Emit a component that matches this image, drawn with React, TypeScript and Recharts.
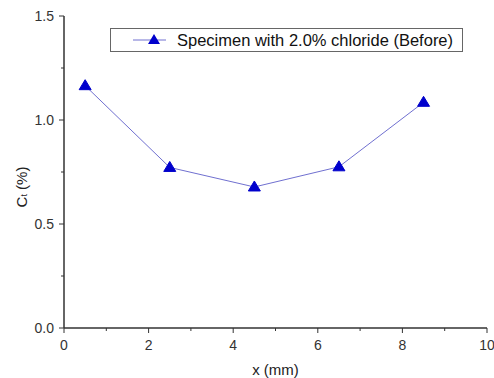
import React from 'react';
import { LineChart, Line, XAxis, YAxis, Legend, Label } from 'recharts';

const xValues = [0.5, 2.5, 4.5, 6.5, 8.5];
const chlorideBefore = [1.165, 0.772, 0.678, 0.775, 1.085];
const xTicks = [0, 1, 2, 3, 4, 5, 6, 7, 8, 9, 10];
const yTicks = [0, 0.25, 0.5, 0.75, 1, 1.25, 1.5];
const seriesName = 'Specimen with 2.0% chloride (Before)';

const data = xValues.map((x, i) => ({ x, ct: chlorideBefore[i] }));

const FONT = 'Arial, "Liberation Sans", sans-serif';
const AXIS = '#333';
const TICK_SIZE = 5;
const TICK_MARGIN = 7;
const Y_TICK_MARGIN = 5;

const XTick = (props: any) => {
  const { x, y, payload } = props;
  const v = payload.value;
  const major = v % 2 === 0;
  const axisY = y - TICK_SIZE - TICK_MARGIN;
  return (
    <g>
      <line x1={x} x2={x} y1={axisY} y2={axisY + (major ? 5 : 3)} stroke={AXIS} strokeWidth={1} />
      {major && (
        <text x={x} y={y} dy="0.71em" textAnchor="middle" fontSize={14} fontFamily={FONT} fill="#333">
          {v}
        </text>
      )}
    </g>
  );
};

const YTick = (props: any) => {
  const { x, y, payload } = props;
  const v = payload.value;
  const major = Math.abs(v * 2 - Math.round(v * 2)) < 1e-6;
  const axisX = x + TICK_SIZE + Y_TICK_MARGIN;
  return (
    <g>
      <line x1={axisX} x2={axisX - (major ? 5 : 3)} y1={y} y2={y} stroke={AXIS} strokeWidth={1} />
      {major && (
        <text x={x} y={y} dy="0.355em" textAnchor="end" fontSize={14} fontFamily={FONT} fill="#333">
          {v.toFixed(1)}
        </text>
      )}
    </g>
  );
};

const Triangle = (props: any) => {
  const { cx, cy } = props;
  if (cx == null || cy == null) return null;
  return <path d={`M${cx},${cy - 6} L${cx + 6},${cy + 4} L${cx - 6},${cy + 4} Z`} fill="#0000cc" stroke="#0000cc" />;
};

const LegendContent = () => (
  <div
    style={{
      width: 351,
      height: 22,
      border: '1px solid #666',
      background: '#fff',
      display: 'flex',
      alignItems: 'center',
      boxSizing: 'content-box',
    }}
  >
    <svg width={66} height={22} style={{ display: 'block' }}>
      <line x1={22} x2={55} y1={11} y2={11} stroke="#7070d0" strokeWidth={1} />
      <path d="M43,5 L49,15 L37,15 Z" fill="#0000cc" />
    </svg>
    <span style={{ fontFamily: FONT, fontSize: 16.5, color: '#111', whiteSpace: 'nowrap' }}>{seriesName}</span>
  </div>
);

export default function App() {
  return (
    <div style={{ position: 'absolute', left: 0, top: 0, width: 494, height: 378, background: '#fff' }}>
      <LineChart width={494} height={378} data={data} margin={{ top: 16, right: 7, left: 0, bottom: 0 }}>
        <XAxis
          dataKey="x"
          type="number"
          domain={[0, 10]}
          ticks={xTicks}
          interval={0}
          height={50}
          tickLine={false}
          tickSize={TICK_SIZE}
          tickMargin={TICK_MARGIN}
          tick={<XTick />}
          axisLine={{ stroke: AXIS, strokeWidth: 1.5 }}
          allowDataOverflow
        >
          <Label
            value="x (mm)"
            position="insideBottom"
            offset={3}
            style={{ fontFamily: FONT, fontSize: 15, fill: '#222' }}
          />
        </XAxis>
        <XAxis
          xAxisId="top"
          orientation="top"
          dataKey="x"
          type="number"
          domain={[0, 10]}
          height={0}
          tick={false}
          tickLine={false}
          axisLine={{ stroke: AXIS, strokeWidth: 1.5 }}
        />
        <YAxis
          type="number"
          domain={[0, 1.5]}
          ticks={yTicks}
          interval={0}
          width={64}
          tickLine={false}
          tickSize={TICK_SIZE}
          tickMargin={Y_TICK_MARGIN}
          tick={<YTick />}
          axisLine={{ stroke: AXIS, strokeWidth: 1.5 }}
          allowDataOverflow
        >
          <Label
            content={() => (
              <text
                x={21}
                y={187}
                transform="rotate(-90, 21, 187)"
                textAnchor="middle"
                dominantBaseline="central"
                fontSize={15}
                fontFamily={FONT}
                fill="#222"
              >
                C<tspan fontSize={9} dy={3}>t</tspan>
                <tspan dy={-3}> (%)</tspan>
              </text>
            )}
          />
        </YAxis>
        <YAxis
          yAxisId="right"
          orientation="right"
          type="number"
          domain={[0, 1.5]}
          width={0}
          tick={false}
          tickLine={false}
          axisLine={{ stroke: AXIS, strokeWidth: 1.5 }}
        />
        <Legend
          verticalAlign="middle"
          layout="horizontal"
          content={<LegendContent />}
          wrapperStyle={{ position: 'absolute', left: 110, top: 28, width: 353, height: 24 }}
        />
        <Line
          dataKey="ct"
          name={seriesName}
          stroke="#7070d0"
          strokeWidth={1}
          dot={<Triangle />}
          activeDot={false}
          isAnimationActive={false}
        />
      </LineChart>
    </div>
  );
}
